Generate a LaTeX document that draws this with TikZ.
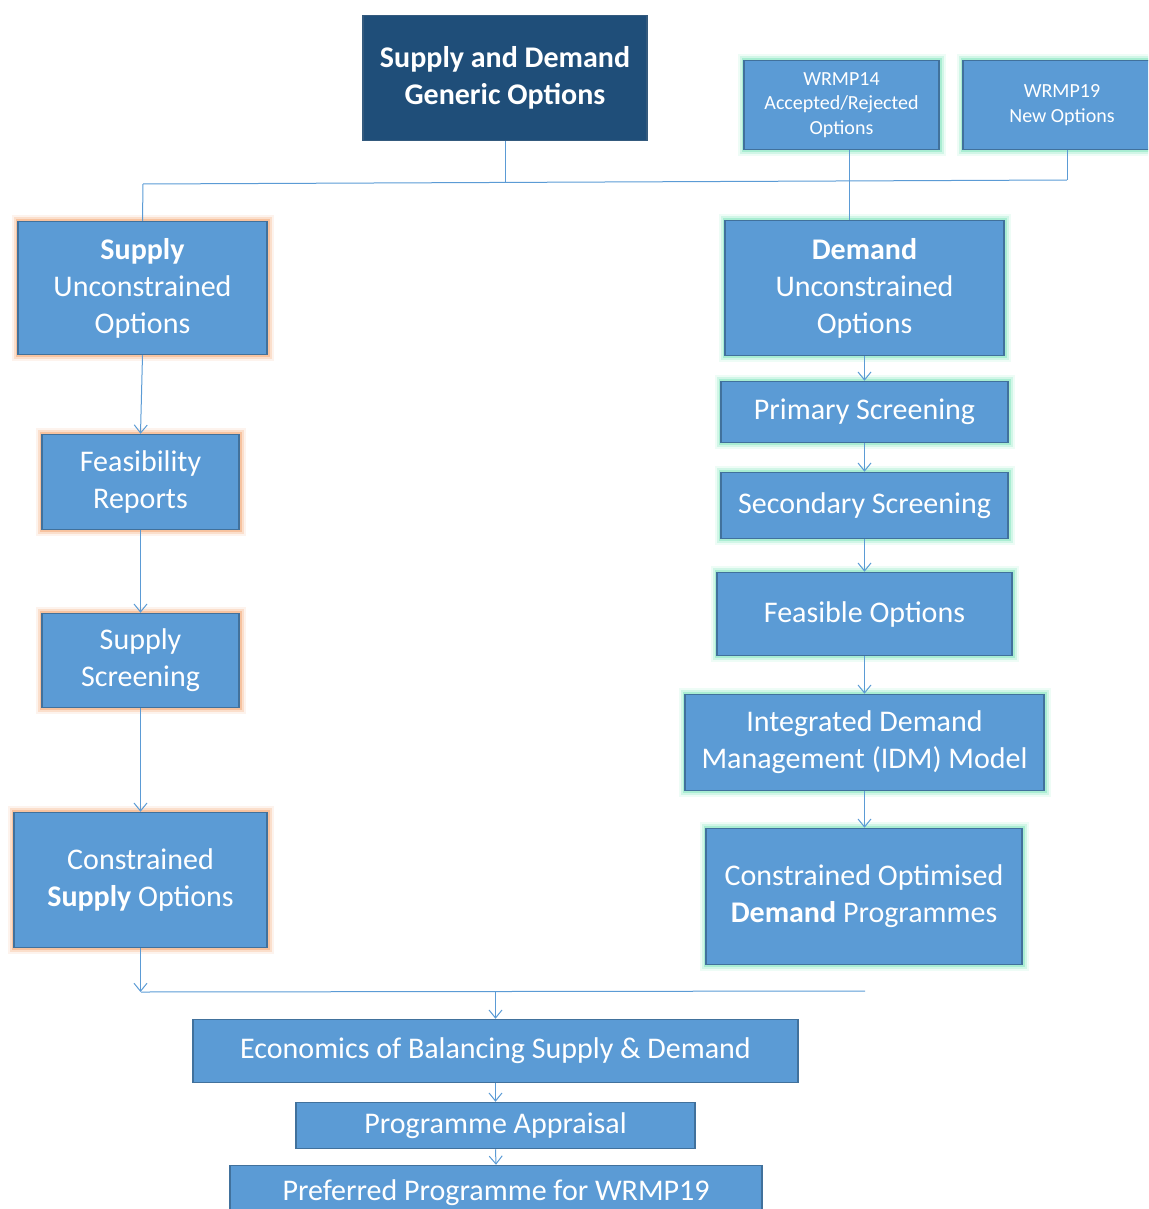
\documentclass[tikz,border=0pt]{standalone}
\usepackage{fontspec}
\setmainfont{Carlito}
\usetikzlibrary{arrows.meta}
\definecolor{boxblue}{HTML}{5B9BD5}
\definecolor{edgeblue}{HTML}{41719C}
\definecolor{darkblue}{HTML}{1F4E79}
\definecolor{glowor}{HTML}{F4B183}
\definecolor{glowgr}{HTML}{8FE8C4}
\begin{document}
\begin{tikzpicture}[x=1pt, y=-1pt,
    box/.style={draw=edgeblue, line width=1.5pt, fill=boxblue, text=white, align=center,
        inner sep=0pt, font=\fontsize{30}{37}\selectfont},
    supglow/.style={box, preaction={draw=glowor, line width=13pt, opacity=0.15},
        preaction={draw=glowor, line width=9pt, opacity=0.3},
        preaction={draw=glowor, line width=5pt, opacity=0.6}},
    demglow/.style={box, preaction={draw=glowgr, line width=13pt, opacity=0.15},
        preaction={draw=glowgr, line width=9pt, opacity=0.3},
        preaction={draw=glowgr, line width=5pt, opacity=0.6}},
    conn/.style={draw=boxblue, line width=1pt},
    arr/.style={conn, -{Straight Barb[length=8pt, width=13pt]}}]
    \useasboundingbox (0,0) rectangle (1148,1209);
    \clip (0,0) rectangle (1148,1209);

    % Top row
    \node[box, fill=darkblue, draw=edgeblue!80!black, minimum width=284pt, minimum height=125pt,
        font=\bfseries\fontsize{30}{37}\selectfont] (generic) at (505,78)
        {Supply and Demand\\Generic Options};
    \node[demglow, minimum width=195pt, minimum height=89pt, font=\fontsize{20}{24.5}\selectfont]
        (wrmp14) at (841.5,105) {WRMP14\\Accepted/Rejected\\Options};
    \node[demglow, minimum width=198pt, minimum height=89pt, font=\fontsize{20}{24.5}\selectfont]
        (wrmp19) at (1062,105) {WRMP19\\New Options};

    % Supply side
    \node[supglow, minimum width=249pt, minimum height=133pt] (supunc) at (142.5,288)
        {\textbf{Supply}\\Unconstrained\\Options};
    \node[supglow, minimum width=197pt, minimum height=95pt] (feas) at (140.5,482)
        {Feasibility\\Reports};
    \node[supglow, minimum width=197pt, minimum height=94pt] (supscr) at (140.5,660.5)
        {Supply\\Screening};
    \node[supglow, minimum width=253pt, minimum height=135pt] (consup) at (140.5,880)
        {Constrained\\\textbf{Supply} Options};

    % Demand side
    \node[demglow, minimum width=279pt, minimum height=135pt] (demunc) at (864.5,288)
        {\textbf{Demand}\\Unconstrained\\Options};
    \node[demglow, minimum width=287pt, minimum height=61pt] (prim) at (864.5,412)
        {Primary Screening};
    \node[demglow, minimum width=287pt, minimum height=66pt] (sec) at (864.5,505.5)
        {Secondary Screening};
    \node[demglow, minimum width=295pt, minimum height=83pt] (feasopt) at (864.5,614)
        {Feasible Options};
    \node[demglow, minimum width=359pt, minimum height=96pt] (idm) at (864.5,742.5)
        {Integrated Demand\\Management (IDM) Model};
    \node[demglow, minimum width=316pt, minimum height=136pt] (condem) at (864,896.5)
        {Constrained Optimised\\\textbf{Demand} Programmes};

    % Bottom chain
    \node[box, minimum width=605pt, minimum height=63pt] (econ) at (495.5,1051)
        {Economics of Balancing Supply \& Demand};
    \node[box, minimum width=399pt, minimum height=46pt] (apprais) at (495.5,1125.5)
        {Programme Appraisal};
    \node[box, minimum width=532pt, minimum height=54pt] (pref) at (496,1192.5)
        {Preferred Programme for WRMP19};

    % Split from the generic options
    \coordinate (splitL) at (143,184);
    \coordinate (splitR) at (1067,180);
    \draw[conn] (generic.south) -- (generic.south |- 0,182);
    \draw[conn] (splitL) -- (splitR);
    \draw[conn] (splitL) -- (supunc.north);
    \draw[conn] ([xshift=5pt]wrmp19.south) -- (splitR);
    \draw[conn] ([xshift=7.5pt]wrmp14.south) -- ([xshift=7.5pt]wrmp14.south |- demunc.north);

    % Supply chain arrows
    \draw[arr] (supunc.south) -- (feas.north);
    \draw[arr] (feas.south) -- (supscr.north);
    \draw[arr] (supscr.south) -- (consup.north);

    % Demand chain arrows
    \draw[arr] (demunc.south) -- (prim.north);
    \draw[arr] (prim.south) -- (sec.north);
    \draw[arr] (sec.south) -- (feasopt.north);
    \draw[arr] (feasopt.south) -- (idm.north);
    \draw[arr] (idm.south) -- (idm.south |- condem.north);

    % Merge into the economics
    \coordinate (mergeL) at (141,992);
    \coordinate (mergeR) at (865,991);
    \draw[arr] (consup.south) -- (consup.south |- mergeL);
    \draw[conn] (mergeL) -- (mergeR);
    \draw[arr] (econ.north |- mergeL) -- (econ.north);
    \draw[arr] (econ.south) -- (apprais.north);
    \draw[arr] (apprais.south) -- (pref.north);
\end{tikzpicture}
\end{document}
